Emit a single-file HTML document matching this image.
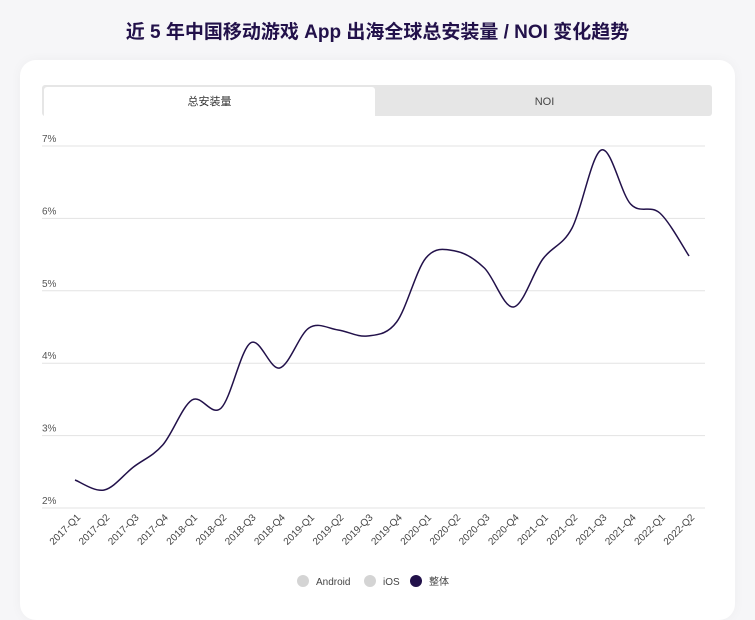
<!DOCTYPE html>
<html><head><meta charset="utf-8"><style>
body{margin:0;width:755px;height:600px;background:#f6f6f8;font-family:"Liberation Sans","Noto Sans CJK SC",sans-serif;overflow:hidden;position:relative}
.title{position:absolute;top:17px;left:0;width:755px;text-align:center;font-size:19px;font-weight:bold;color:#22114a}
.card{position:absolute;left:20px;top:60px;width:715px;height:560px;background:#fff;border-radius:16px;box-shadow:0 0 12px rgba(0,0,0,0.04)}
.tabs{position:absolute;left:42px;top:85px;width:670px;height:31px;background:#e6e6e6;border-radius:3px}
.tab1{position:absolute;left:2px;top:2px;width:331px;height:29px;background:#fff;border-radius:3px 3px 0 0;text-align:center;line-height:30px;font-size:11px;color:#333}
.tab2{position:absolute;left:335px;top:2px;width:335px;line-height:30px;text-align:center;font-size:11px;color:#444}
</style></head><body>
<div class="title">近 5 年中国移动游戏 App 出海全球总安装量 / NOI 变化趋势</div>
<div class="card"></div>
<div class="tabs"><div class="tab1">总安装量</div><div class="tab2">NOI</div></div>
<svg id="s" width="755" height="600" style="position:absolute;left:0;top:0" font-family="Liberation Sans, sans-serif"></svg>
<script>
var s=document.getElementById('s'),h='';
var ys=[146,218.4,290.8,363.2,435.6,508];
for(var i=0;i<6;i++){h+='<line x1="42" x2="705" y1="'+ys[i]+'" y2="'+ys[i]+'" stroke="#e3e3e3"/>';
h+='<text x="42" y="'+(ys[i]-4)+'" font-size="10" fill="#555">'+(7-i)+'%</text>';}
var v=[480,490,467,445,400,408,343,368,328,330,336,322,258,251,268,307,259,228,150,204,213,256];
var lab=[];for(var y=2017;y<=2022;y++)for(var q=1;q<=4;q++)lab.push(y+'-Q'+q);
var P=v.map(function(y,i){return [75+29.24*i,y]});
var d='M'+P[0][0]+','+P[0][1];
for(var i=0;i<P.length-1;i++){var p0=P[Math.max(i-1,0)],p1=P[i],p2=P[i+1],p3=P[Math.min(i+2,P.length-1)];
d+=' C'+(p1[0]+(p2[0]-p0[0])/6)+','+(p1[1]+(p2[1]-p0[1])/6)+' '+(p2[0]-(p3[0]-p1[0])/6)+','+(p2[1]-(p3[1]-p1[1])/6)+' '+p2[0]+','+p2[1];}
h+='<path d="'+d+'" fill="none" stroke="#22114a" stroke-width="1.5"/>';
for(var i=0;i<22;i++){var x=P[i][0]+6;h+='<text x="'+x+'" y="518" font-size="10" fill="#444" text-anchor="end" transform="rotate(-45 '+x+' 518)">'+lab[i]+'</text>';}
h+='<circle cx="303" cy="581" r="6" fill="#d4d4d4"/><text x="316" y="585" font-size="10" fill="#444">Android</text>';
h+='<circle cx="370" cy="581" r="6" fill="#d4d4d4"/><text x="383" y="585" font-size="10" fill="#444">iOS</text>';
h+='<circle cx="416" cy="581" r="6" fill="#22114a"/><text x="429" y="585" font-size="10" fill="#444" font-family="Liberation Sans, Noto Sans CJK SC, sans-serif">整体</text>';
s.innerHTML=h;
</script>
</body></html>
